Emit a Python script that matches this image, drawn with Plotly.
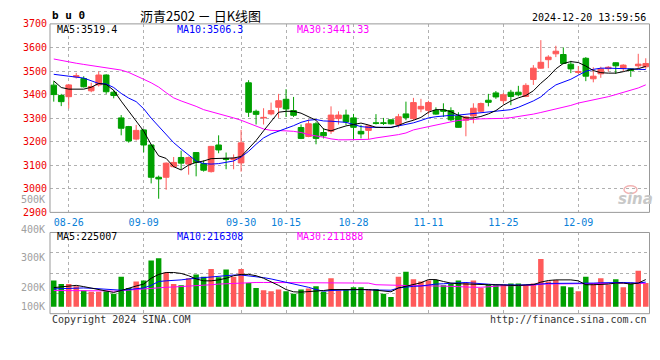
import plotly.graph_objects as go

# ---------------- data ----------------
dates = ["08-22","08-23","08-26","08-27","08-28","08-29","08-30","09-02","09-03","09-04",
         "09-05","09-06","09-09","09-10","09-11","09-12","09-13","09-18","09-19","09-20",
         "09-23","09-24","09-25","09-26","09-27","09-30","10-08","10-09","10-10","10-11",
         "10-14","10-15","10-16","10-17","10-18","10-21","10-22","10-23","10-24","10-25",
         "10-28","10-29","10-30","10-31","11-01","11-04","11-05","11-06","11-07","11-08",
         "11-11","11-12","11-13","11-14","11-15","11-18","11-19","11-20","11-21","11-22",
         "11-25","11-26","11-27","11-28","11-29","12-02","12-03","12-04","12-05","12-06",
         "12-09","12-10","12-11","12-12","12-13","12-16","12-17","12-18","12-19","12-20"]

opens = [3440,3396,3391,3475,3468,3416,3441,3483,3410,3301,3264,3211,3250,3186,3049,3049,3094,3133,3105,3154,
         3107,3073,3186,3129,3125,3110,3450,3329,3301,3318,3346,3380,3332,3260,3222,3276,3239,3244,3298,3313,
         3301,3244,3248,3280,3280,3293,3273,3318,3298,3339,3333,3333,3335,3332,3309,3291,3309,3329,3376,3407,
         3374,3410,3410,3392,3464,3512,3548,3573,3570,3529,3494,3554,3467,3488,3510,3535,3512,3509,3522,3518]
highs = [3457,3403,3445,3492,3478,3450,3498,3486,3420,3313,3267,3271,3253,3189,3056,3112,3135,3162,3137,3156,
         3121,3182,3227,3154,3146,3250,3461,3336,3342,3366,3403,3423,3390,3273,3294,3284,3257,3350,3329,3336,
         3318,3271,3271,3317,3301,3293,3318,3370,3386,3382,3374,3346,3363,3346,3325,3309,3363,3366,3403,3415,
         3407,3420,3437,3448,3525,3631,3567,3607,3600,3543,3521,3559,3516,3518,3521,3537,3529,3512,3573,3554]
lows = [3370,3351,3341,3468,3430,3410,3434,3403,3384,3227,3196,3205,3155,3023,2958,2996,3091,3083,3060,3053,
        3073,3069,3151,3083,3083,3073,3305,3273,3273,3312,3301,3305,3305,3211,3219,3189,3214,3233,3273,3271,
        3210,3214,3210,3273,3271,3273,3260,3291,3291,3325,3318,3314,3305,3287,3260,3223,3278,3325,3350,3382,
        3361,3355,3393,3389,3441,3509,3512,3559,3529,3491,3488,3457,3452,3471,3498,3488,3498,3475,3512,3509]
closes = [3400,3370,3441,3480,3433,3434,3483,3412,3396,3257,3203,3248,3186,3049,3042,3109,3112,3109,3133,3112,
          3079,3180,3165,3125,3129,3195,3325,3316,3303,3332,3374,3339,3312,3214,3276,3214,3225,3313,3313,3284,
          3261,3233,3267,3278,3278,3276,3306,3302,3366,3350,3366,3317,3329,3293,3261,3305,3342,3362,3367,3390,
          3399,3392,3399,3439,3512,3537,3559,3584,3532,3509,3498,3478,3478,3509,3516,3522,3525,3502,3529,3532]

ma5 = [3458,3430,3423,3423,3423,3431,3447,3443,3418,3372,3330,3290,3245,3188,3140,3129,3094,3080,3101,3112,
       3118,3128,3129,3129,3131,3137,3169,3205,3246,3287,3325,3329,3329,3321,3306,3291,3254,3246,3257,3267,
       3273,3279,3271,3261,3260,3260,3269,3282,3291,3303,3325,3336,3336,3327,3312,3301,3301,3307,3318,3332,
       3355,3373,3386,3396,3416,3448,3475,3509,3532,3540,3536,3521,3502,3493,3491,3491,3497,3506,3510,3519.4]
ma10 = [3486,3481,3477,3474,3470,3460,3447,3445,3430,3405,3385,3370,3340,3300,3265,3228,3196,3169,3142,3118,
        3107,3105,3107,3111,3118,3135,3159,3189,3216,3233,3244,3254,3268,3282,3291,3294,3288,3287,3284,3282,
        3273,3264,3261,3260,3260,3261,3267,3272,3280,3290,3301,3306,3310,3312,3313,3316,3318,3321,3325,3329,
        3332,3336,3346,3358,3373,3390,3418,3441,3454,3465,3482,3499,3507,3512,3512,3512,3510,3509,3507,3506.3]
ma30 = [3551,3544,3538,3533,3528,3523,3518,3515,3511,3504,3494,3481,3465,3450,3432,3408,3386,3373,3363,3350,
        3336,3328,3318,3310,3301,3291,3278,3267,3254,3248,3248,3246,3244,3239,3230,3226,3219,3212,3208,3208,
        3208,3208,3210,3216,3220,3226,3230,3237,3250,3257,3264,3273,3279,3284,3290,3294,3295,3297,3297,3298,
        3299,3302,3306,3310,3317,3324,3331,3339,3346,3354,3364,3370,3376,3383,3391,3400,3409,3418,3428,3441.33]

vol_k = [221.7,209.4,209.4,201.7,187.2,182.8,182.8,185.0,176.1,235.0,196.1,218.3,221.7,290.6,298.3,249.4,209.4,205.0,229.4,242.8,
         235.0,261.7,232.8,259.4,235.0,261.7,212.8,196.1,188.3,185.0,190.6,185.0,176.1,190.6,193.9,201.7,182.8,229.4,187.2,192.8,
         198.3,198.3,190.6,192.8,176.1,165.0,235.0,251.7,226.1,218.3,221.7,223.9,205.0,209.4,221.7,212.8,221.7,196.1,207.2,205.0,
         207.2,211.7,211.7,205.0,211.7,296.1,218.3,223.9,201.7,198.3,185.0,235.0,212.8,229.4,207.2,226.1,198.3,215.0,255.0,212.8]
vol_ma5_k = [197.2,199.4,202.8,205.0,200.6,196.1,190.6,186.1,180.6,187.2,196.1,202.8,209.4,229.4,242.8,249.4,249.4,246.1,238.3,227.2,
             220.6,220.6,223.9,229.4,238.3,242.8,242.8,238.3,229.4,218.3,205.0,190.6,182.8,181.7,182.8,185.0,187.2,190.6,190.6,191.7,
             192.8,192.8,190.6,188.3,185.0,182.8,196.1,201.7,209.4,213.9,225.0,225.0,218.3,212.8,210.6,209.4,209.4,207.2,207.2,207.2,
             205.0,205.0,205.0,205.0,207.2,216.1,221.7,223.9,223.9,223.9,220.6,207.2,207.2,207.2,209.4,212.8,212.8,209.4,212.8,225.007]
vol_ma10_k = [192.8,193.9,196.1,196.1,196.1,195.0,192.8,190.6,188.3,188.3,190.6,192.8,196.1,205.0,218.3,220.6,221.7,223.9,227.2,229.4,
              231.7,235.0,238.3,240.6,240.6,240.6,238.3,235.0,231.7,227.2,221.7,216.1,210.6,205.0,198.3,190.6,185.0,187.2,188.3,189.4,
              190.6,190.6,189.4,188.3,187.2,188.3,196.1,199.4,201.7,202.8,207.2,209.4,210.6,211.7,212.8,215.0,212.8,210.6,208.4,207.2,
              207.2,206.1,206.1,207.2,207.2,209.4,211.7,211.7,211.7,211.7,210.6,211.7,212.8,213.9,215.0,215.0,215.0,213.9,212.8,216.308]
vol_ma30_k = [187.2,187.2,187.2,188.3,188.3,188.3,187.2,186.1,185.0,187.2,189.4,191.7,192.8,196.1,197.2,198.3,199.4,200.6,202.8,203.9,
              205.0,207.2,209.4,210.6,212.8,213.9,215.0,215.0,215.0,215.0,215.0,213.9,213.9,213.9,213.9,213.9,213.9,213.9,213.9,213.9,
              213.9,212.8,212.8,207.2,206.1,205.0,203.9,203.9,203.9,203.9,203.9,202.8,202.8,201.7,200.6,198.3,198.3,198.3,200.6,203.9,
              203.9,203.9,203.9,203.9,205.0,209.4,209.4,209.4,209.4,209.4,210.6,210.6,211.7,211.7,211.7,212.8,212.8,212.8,212.8,211.888]

tick_dates = ["08-26","09-09","09-30","10-15","10-28","11-11","11-25","12-09"]
price_ticks = [2900,3000,3100,3200,3300,3400,3500,3600,3700]
vol_tick_labels = ["500K","400K","300K","200K","100K"]

# ---------------- styling / layout helpers ----------------
W, H = 660, 360
RED = "#ff5a5a"
GREEN = "#00a000"
MONO = "DejaVu Sans Mono"

def fx(px):
    return px / W

def fy(py):
    return 1 - py / H

L, R = 50, 649.5
P_TOP, P_BOT = 18.5, 213.5          # price panel
V_TOP, V_BOT = 234.3, 318.3          # volume panel
V_PX_PER_K = 0.30                    # pixels per 1K volume
V_REF_PX, V_REF_K = 290.5, 200.0     # 200K level pixel
def vk_at(py):
    return V_REF_K + (V_REF_PX - py) / V_PX_PER_K
VOL_BASE = vk_at(311.0) * 1000       # bar baseline level

vol = [v * 1000 for v in vol_k]
vol_colors = [RED if c >= o else GREEN for o, c in zip(opens, closes)]

fig = go.Figure()

fig.add_trace(go.Candlestick(
    x=dates, open=opens, high=highs, low=lows, close=closes,
    increasing=dict(line=dict(color=RED, width=1), fillcolor=RED),
    decreasing=dict(line=dict(color=GREEN, width=1), fillcolor=GREEN),
    whiskerwidth=0, hoverinfo="skip", xaxis="x", yaxis="y", showlegend=False))

for series, col in [(ma30, "#ff00ff"), (ma10, "#0000ff"), (ma5, "#000000")]:
    fig.add_trace(go.Scatter(x=dates, y=series, mode="lines",
                             line=dict(color=col, width=1), xaxis="x", yaxis="y",
                             hoverinfo="skip", showlegend=False))

fig.add_trace(go.Bar(x=dates, y=[v - VOL_BASE for v in vol], base=VOL_BASE,
                     marker=dict(color=vol_colors, line=dict(width=0)),
                     xaxis="x2", yaxis="y2", hoverinfo="skip", showlegend=False))

for series, col in [(vol_ma30_k, "#ff00ff"), (vol_ma10_k, "#0000ff"), (vol_ma5_k, "#000000")]:
    fig.add_trace(go.Scatter(x=dates, y=[v * 1000 for v in series], mode="lines",
                             line=dict(color=col, width=1), xaxis="x2", yaxis="y2",
                             hoverinfo="skip", showlegend=False))

grid = dict(showgrid=True, gridcolor="#b0b0b0", griddash="dot", gridwidth=1)

fig.update_layout(
    width=W, height=H, margin=dict(l=0, r=0, t=0, b=0),
    paper_bgcolor="white", plot_bgcolor="white",
    boxgap=0.25, boxgroupgap=0, bargap=0.27,
    xaxis=dict(domain=[fx(L), fx(R)], type="category", range=[-0.5, len(dates) - 0.5],
               anchor="y", tickmode="array", tickvals=tick_dates, ticktext=tick_dates,
               tickfont=dict(family=MONO, size=10, color="#0a7fd8"), ticks="",
               ticklabelstandoff=3,
               showline=False, zeroline=False, rangeslider=dict(visible=False), **grid),
    yaxis=dict(domain=[fy(P_BOT), fy(P_TOP)], range=[2900, 3700], anchor="x",
               tickmode="array", tickvals=price_ticks, ticktext=[str(t) for t in price_ticks],
               tickfont=dict(family=MONO, size=10, color="#ee0000"), ticks="",
               ticklabelstandoff=2, showline=False, zeroline=False, **grid),
    xaxis2=dict(domain=[fx(L), fx(R)], type="category", range=[-0.5, len(dates) - 0.5],
                anchor="y2", matches="x", tickmode="array", tickvals=tick_dates,
                showticklabels=False, ticks="", showline=False, zeroline=False, **grid),
    yaxis2=dict(domain=[fy(V_BOT), fy(V_TOP)], range=[vk_at(V_BOT) * 1000, vk_at(V_TOP) * 1000],
                anchor="x2", tickmode="array",
                tickvals=[vk_at(V_TOP + (V_BOT - V_TOP) * k / 4) * 1000 for k in (1, 2, 3)],
                showticklabels=False, ticks="", showline=False, zeroline=False, **grid),
)

# panel borders
for top, bot in [(P_TOP, P_BOT), (V_TOP, V_BOT)]:
    fig.add_shape(type="rect", xref="paper", yref="paper",
                  x0=fx(L), x1=fx(R), y0=fy(bot), y1=fy(top),
                  line=dict(color="#999999", width=1), fillcolor="rgba(0,0,0,0)", layer="above")

ann = []
def text(x, y, s, color="black", size=10, family=MONO, anchor="left", **kw):
    ann.append(dict(x=fx(x), y=fy(y), xref="paper", yref="paper", text=s, showarrow=False,
                    xanchor=anchor, yanchor="middle",
                    font=dict(family=family, size=size, color=color, **kw)))

# header
text(50, 10, "<b>b u 0</b>", size=11)
text(200, 10, "沥青2502 － 日K线图", size=13, family="Noto Sans CJK SC", anchor="center")
text(648, 12, "2024-12-20 13:59:56", anchor="right")

# MA legends
text(55, 24.5, f"MA5:{ma5[-1]}", color="#000000")
text(175, 24.5, f"MA10:{ma10[-1]}", color="#0000ff")
text(295, 24.5, f"MA30:{ma30[-1]}", color="#ff00ff")
text(55, 238.5, f"MA5:{round(vol_ma5_k[-1] * 1000)}", color="#000000")
text(175, 238.5, f"MA10:{round(vol_ma10_k[-1] * 1000)}", color="#0000ff")
text(295, 238.5, f"MA30:{round(vol_ma30_k[-1] * 1000)}", color="#ff00ff")

# volume axis labels
for lab, py in zip(vol_tick_labels, [200, 231, 260, 290.7, 311]):
    text(46.5, py, lab, color="#a0a0a0", anchor="right")

# footer
text(50, 324, "Copyright 2024 SINA.COM", color="#333333")
text(649, 324, "http://finance.sina.com.cn", color="#333333", anchor="right")

# watermark
text(635, 200, "<b><i>sina</i></b>", color="#c8c8c8", size=15, family="DejaVu Sans", anchor="center")
fig.add_shape(type="circle", xref="paper", yref="paper", x0=fx(624), x1=fx(637), y0=fy(194), y1=fy(186),
              line=dict(color="#f2b4b4", width=1.5))

fig.update_layout(annotations=ann)
fig.write_html("out.html", config={"displayModeBar": False, "staticPlot": True},
               post_script="document.body.style.margin='0';document.body.style.overflow='hidden';")
